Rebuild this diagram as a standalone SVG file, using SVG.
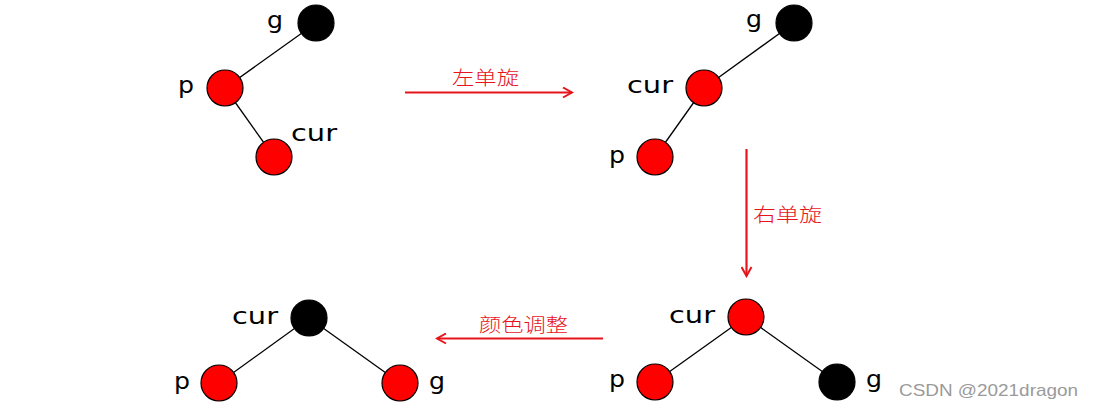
<svg xmlns="http://www.w3.org/2000/svg" width="1093" height="409" viewBox="0 0 1093 409">
<defs>
<style>
.red{fill:#ff0000;stroke:#000;stroke-width:1.2}
.blk{fill:#000;stroke:#000;stroke-width:1.2}
.edge{stroke:#000;stroke-width:1.3;fill:none}
.lbl{font-family:"DejaVu Sans","Liberation Sans",sans-serif;font-size:23px;fill:#000}
.arr{stroke:#e8141b;stroke-width:2.2;fill:none}
.cn{font-family:"Noto Sans CJK SC",sans-serif;font-size:19px;fill:#e8141b;font-weight:300}
.wm{font-family:"Liberation Sans",Arial,sans-serif;font-size:17px;fill:#9a9a9a}
</style>
<marker id="ah" viewBox="0 0 12 12" refX="10" refY="6" markerWidth="12" markerHeight="12" markerUnits="userSpaceOnUse" orient="auto">
<path d="M1,1 L10,6 L1,11" stroke="#e8141b" stroke-width="2" fill="none"/>
</marker>
</defs>
<g id="connectors">
<line class="edge" x1="225" y1="88" x2="316" y2="23"/>
<line class="edge" x1="225" y1="88" x2="274" y2="157"/>
<line class="edge" x1="704" y1="88" x2="794" y2="23"/>
<line class="edge" x1="704" y1="88" x2="655" y2="157"/>
<line class="edge" x1="746" y1="317" x2="655" y2="382"/>
<line class="edge" x1="746" y1="317" x2="837" y2="382"/>
<line class="edge" x1="309" y1="318" x2="219" y2="383"/>
<line class="edge" x1="309" y1="318" x2="400" y2="383"/>
<line class="arr" x1="405" y1="92.5" x2="572" y2="92.5" marker-end="url(#ah)"/>
<line class="arr" x1="746.5" y1="149" x2="746.5" y2="276" marker-end="url(#ah)"/>
<line class="arr" x1="603" y1="338.5" x2="437" y2="338.5" marker-end="url(#ah)"/>
</g>
<g id="d1-g"><circle class="blk" cx="316" cy="23" r="18"/><text class="lbl" x="267" y="28" textLength="16" lengthAdjust="spacingAndGlyphs">g</text></g>
<g id="d1-p"><circle class="red" cx="225" cy="88" r="18"/><text class="lbl" x="178" y="93" textLength="16" lengthAdjust="spacingAndGlyphs">p</text></g>
<g id="d1-cur"><circle class="red" cx="274" cy="157" r="18"/><text class="lbl" x="291" y="141" textLength="46" lengthAdjust="spacingAndGlyphs">cur</text></g>
<g id="d2-g"><circle class="blk" cx="794" cy="23" r="18"/><text class="lbl" x="746" y="27" textLength="16" lengthAdjust="spacingAndGlyphs">g</text></g>
<g id="d2-cur"><circle class="red" cx="704" cy="88" r="18"/><text class="lbl" x="627" y="93" textLength="46" lengthAdjust="spacingAndGlyphs">cur</text></g>
<g id="d2-p"><circle class="red" cx="655" cy="157" r="18"/><text class="lbl" x="609" y="163" textLength="16" lengthAdjust="spacingAndGlyphs">p</text></g>
<g id="d3-cur"><circle class="red" cx="746" cy="317" r="18"/><text class="lbl" x="669" y="323" textLength="46" lengthAdjust="spacingAndGlyphs">cur</text></g>
<g id="d3-p"><circle class="red" cx="655" cy="382" r="18"/><text class="lbl" x="609" y="387" textLength="16" lengthAdjust="spacingAndGlyphs">p</text></g>
<g id="d3-g"><circle class="blk" cx="837" cy="382" r="18"/><text class="lbl" x="866" y="387" textLength="16" lengthAdjust="spacingAndGlyphs">g</text></g>
<g id="d4-cur"><circle class="blk" cx="309" cy="318" r="18"/><text class="lbl" x="232" y="324" textLength="46" lengthAdjust="spacingAndGlyphs">cur</text></g>
<g id="d4-p"><circle class="red" cx="219" cy="383" r="18"/><text class="lbl" x="174" y="389" textLength="16" lengthAdjust="spacingAndGlyphs">p</text></g>
<g id="d4-g"><circle class="red" cx="400" cy="383" r="18"/><text class="lbl" x="429" y="389" textLength="16" lengthAdjust="spacingAndGlyphs">g</text></g>
<g id="labels">
<text class="cn" x="452" y="85" textLength="67" lengthAdjust="spacingAndGlyphs">左单旋</text>
<text class="cn" x="753" y="222" textLength="69" lengthAdjust="spacingAndGlyphs">右单旋</text>
<text class="cn" x="479" y="332" textLength="89" lengthAdjust="spacingAndGlyphs">颜色调整</text>
<text class="wm" x="899" y="396" textLength="179" lengthAdjust="spacingAndGlyphs">CSDN @2021dragon</text>
</g>
</svg>
